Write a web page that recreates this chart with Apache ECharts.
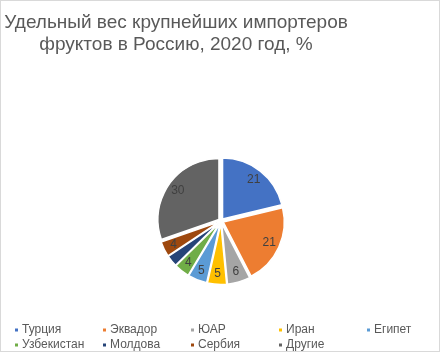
<!DOCTYPE html>
<html><head><meta charset="utf-8">
<script src="https://cdn.jsdelivr.net/npm/echarts@6/dist/echarts.min.js"></script>
<style>html,body{margin:0;padding:0;background:#fff}#c{width:440px;height:352px;box-sizing:border-box;border:1px solid #d9d9d9}</style>
</head><body><div id="c"></div>
<script>
const categories = ['Турция','Эквадор','ЮАР','Иран','Египет','Узбекистан','Молдова','Сербия','Другие'];
const values = [21, 21, 6, 5, 5, 4, 3, 4, 30];
const colors = ['#4472C4','#ED7D31','#A5A5A5','#FFC000','#5B9BD5','#70AD47','#264478','#9E480E','#636363'];
const titleText = 'Удельный вес крупнейших импортеров\nфруктов в Россию, 2020 год, %';

const chart = echarts.init(document.getElementById('c'));
const pieData = categories.map((n, i) => ({name: n, value: values[i], selected: true, itemStyle: {color: colors[i]}}));
const labelData = categories.map((n, i) => ({name: n, value: values[i]}));
const cols = [];
for (let c = 0; c < 5; c++) {
  const d = [categories[c]];
  if (categories[c + 5]) d.push(categories[c + 5]);
  cols.push({
    data: d, orient: 'vertical', left: 12 + c * 88, top: 322, height: 60, width: 86,
    itemGap: 1, padding: 0,
    itemWidth: 5, itemHeight: 5, icon: 'rect', selectedMode: false,
    textStyle: {fontFamily: 'Liberation Sans', fontSize: 12, color: '#595959', padding: [0,0,0,-2], lineHeight: 14}
  });
}
chart.setOption({
  animation: false,
  backgroundColor: '#fff',
  title: {
    text: titleText, left: 170, top: 6, textAlign: 'center',
    textStyle: {fontFamily: 'Liberation Sans', fontSize: 19, fontWeight: 'normal', color: '#595959', lineHeight: 22}
  },
  legend: cols,
  series: [{
    type: 'pie', center: [220, 220], radius: 61, startAngle: 90, clockwise: true,
    selectedMode: 'multiple', selectedOffset: 2.5,
    data: pieData,
    itemStyle: {borderColor: '#fff', borderWidth: 1.5},
    label: {show: false}, labelLine: {show: false},
    emphasis: {disabled: true}
  }, {
    type: 'pie', center: [220, 220], radius: [37, 63], startAngle: 90, clockwise: true,
    silent: true, legendHoverLink: false,
    data: labelData,
    itemStyle: {color: 'rgba(0,0,0,0)'},
    label: {show: true, position: 'inside', formatter: '{c}', fontFamily: 'Liberation Sans', fontSize: 12, color: '#404040'},
    labelLine: {show: false},
    emphasis: {disabled: true}
  }]
});
</script></body></html>
